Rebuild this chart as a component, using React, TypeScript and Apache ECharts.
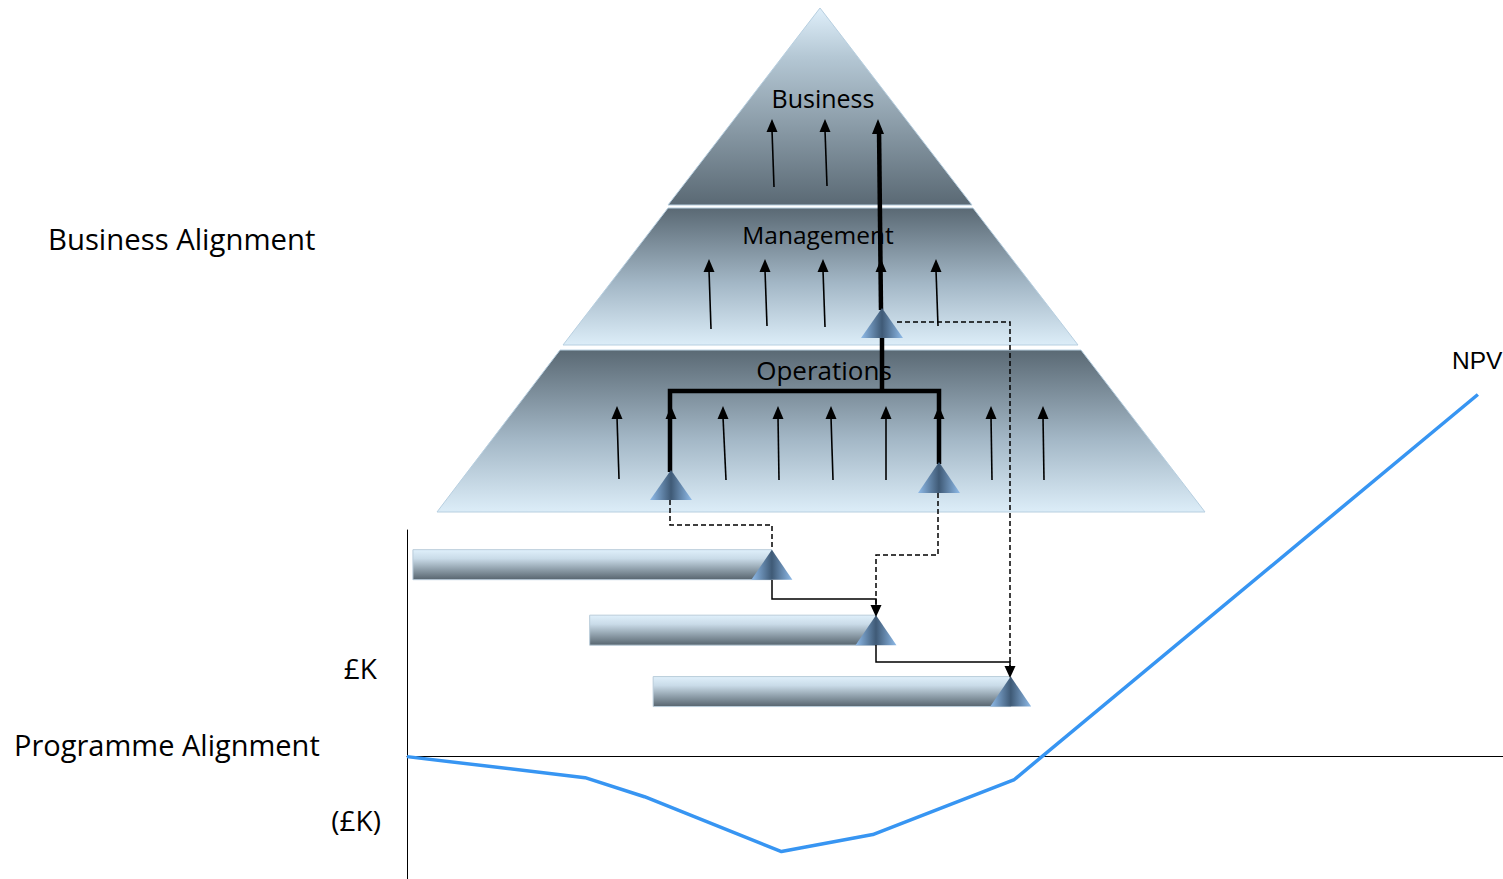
import React, { useEffect, useRef } from "react";
import * as echarts from "echarts";

// NPV curve: months vs £K
const npvMonths = [0, 3.9, 5.2, 8.2, 10.2, 13.3, 23.45];
const npvValues = [0, -9.3, -17.7, -41.9, -34.4, -10.1, 159.8];

// Programme projects (start month, end month, row level)
const projectStarts = [0.13, 4.0, 5.39];
const projectEnds = [7.99, 10.27, 13.22];
const projectRows = [84.7, 55.8, 28.7];

const pyramidLevels = ["Business", "Management", "Operations"];

const FONT = "'Comic Sans MS', 'Open Sans', sans-serif";

function triGrad() {
  return new echarts.graphic.LinearGradient(0, 0, 1, 0, [
    { offset: 0, color: "#8fbbe9" },
    { offset: 0.5, color: "#3f5a76" },
    { offset: 1, color: "#8fbbe9" },
  ]);
}

function upArrow(x1: number, y1: number, x2: number, y2: number, w = 1.6, hw = 5.5, hl = 13) {
  return [
    { type: "line", shape: { x1, y1, x2, y2: y2 + hl - 2 }, style: { stroke: "#000", lineWidth: w }, z: 5 },
    { type: "polygon", shape: { points: [[x2, y2], [x2 - hw, y2 + hl], [x2 + hw, y2 + hl]] }, style: { fill: "#000" }, z: 5 },
  ];
}

function downHead(x: number, y: number, hw = 5.5, hl = 12) {
  return { type: "polygon", shape: { points: [[x, y], [x - hw, y - hl], [x + hw, y - hl]] }, style: { fill: "#000" }, z: 6 };
}

function pyrTri(x: number, apexY: number, baseY: number, hw = 21) {
  return { type: "polygon", shape: { points: [[x, apexY], [x - hw, baseY], [x + hw, baseY]] }, style: { fill: triGrad() }, z: 6 };
}

export default function App() {
  const ref = useRef<HTMLDivElement>(null);
  useEffect(() => {
    if (!ref.current) return;
    const chart = echarts.init(ref.current, null, { renderer: "svg" });

    const darkLight = (rev: boolean) =>
      new echarts.graphic.LinearGradient(0, 0, 0, 1, rev
        ? [{ offset: 0, color: "#dfeffa" }, { offset: 0.25, color: "#b4c7d4" }, { offset: 1, color: "#5a6974" }]
        : [{ offset: 0, color: "#5a6974" }, { offset: 0.55, color: "#a3b7c6" }, { offset: 1, color: "#dcedf8" }]);

    const graphics: any[] = [
      // pyramid sections
      { type: "polygon", shape: { points: [[820, 8], [972, 205], [668, 205]] }, style: { fill: darkLight(true), stroke: "#b7cfe0", lineWidth: 1 }, z: 1 },
      { type: "polygon", shape: { points: [[668, 208], [973, 208], [1078, 345], [563, 345]] }, style: { fill: darkLight(false), stroke: "#b7cfe0", lineWidth: 1 }, z: 1 },
      { type: "polygon", shape: { points: [[560, 350], [1081, 350], [1205, 512], [437, 512]] }, style: { fill: darkLight(false), stroke: "#b7cfe0", lineWidth: 1 }, z: 1 },
      // level labels
      { type: "text", x: 823, y: 98, style: { text: pyramidLevels[0], font: `25px ${FONT}`, fill: "#000", align: "center", verticalAlign: "middle" }, z: 4 },
      { type: "text", x: 818, y: 234, style: { text: pyramidLevels[1], font: `24.5px ${FONT}`, fill: "#000", align: "center", verticalAlign: "middle" }, z: 4 },
      { type: "text", x: 824, y: 370, style: { text: pyramidLevels[2], font: `26px ${FONT}`, fill: "#000", align: "center", verticalAlign: "middle" }, z: 4 },
      // thick lines
      { type: "line", shape: { x1: 881, y1: 310, x2: 879, y2: 128 }, style: { stroke: "#000", lineWidth: 4.5 }, z: 5 },
      { type: "polygon", shape: { points: [[878, 119], [872, 134], [884, 134]] }, style: { fill: "#000" }, z: 5 },
      { type: "line", shape: { x1: 882, y1: 336, x2: 882, y2: 392 }, style: { stroke: "#000", lineWidth: 4.5 }, z: 5 },
      { type: "polyline", shape: { points: [[670, 472], [670, 391], [939, 391], [939, 464]] }, style: { stroke: "#000", lineWidth: 4.5, fill: null }, z: 5 },
      // thin arrows - business
      ...upArrow(774, 187, 772, 119),
      ...upArrow(827, 186, 825, 119),
      // management
      ...upArrow(711, 329, 709, 259),
      ...upArrow(767, 326, 765, 259),
      ...upArrow(825, 327, 823, 259),
      ...upArrow(881, 300, 881, 259),
      ...upArrow(938, 326, 936, 259),
      // operations
      ...upArrow(619, 479, 617, 406),
      ...upArrow(671, 470, 671, 406),
      ...upArrow(726, 480, 723, 406),
      ...upArrow(779, 480, 778, 406),
      ...upArrow(833, 480, 831, 406),
      ...upArrow(886, 480, 886, 406),
      ...upArrow(939, 462, 939, 406),
      ...upArrow(992, 480, 991, 406),
      ...upArrow(1044, 480, 1043, 406),
      // pyramid milestones
      pyrTri(882, 308, 338),
      pyrTri(671, 470, 500),
      pyrTri(939, 462, 493),
      // dashed connectors
      { type: "polyline", shape: { points: [[670, 500], [670, 525], [772, 525], [772, 550]] }, style: { stroke: "#000", lineWidth: 1.5, lineDash: [5, 3], fill: null }, z: 5 },
      { type: "polyline", shape: { points: [[938, 493], [938, 555], [876, 555], [876, 606]] }, style: { stroke: "#000", lineWidth: 1.5, lineDash: [5, 3], fill: null }, z: 5 },
      { type: "polyline", shape: { points: [[897, 322], [1010, 322], [1010, 668]] }, style: { stroke: "#000", lineWidth: 1.5, lineDash: [5, 3], fill: null }, z: 5 },
      // solid connectors
      { type: "polyline", shape: { points: [[772, 580], [772, 599], [876, 599], [876, 606]] }, style: { stroke: "#000", lineWidth: 1.5, fill: null }, z: 5 },
      { type: "polyline", shape: { points: [[876, 645], [876, 662], [1010, 662], [1010, 668]] }, style: { stroke: "#000", lineWidth: 1.5, fill: null }, z: 5 },
      downHead(876, 617),
      downHead(1010, 678),
      // side texts
      { type: "text", x: 48, y: 239, style: { text: "Business Alignment", font: `29.3px ${FONT}`, fill: "#000", verticalAlign: "middle" }, z: 4 },
      { type: "text", x: 14, y: 744, style: { text: "Programme Alignment", font: `29px ${FONT}`, fill: "#000", verticalAlign: "middle" }, z: 4 },
      { type: "text", x: 377, y: 668, style: { text: "£K", font: `28px ${FONT}`, fill: "#000", align: "right", verticalAlign: "middle" }, z: 4 },
      { type: "text", x: 381, y: 820, style: { text: "(£K)", font: `28px ${FONT}`, fill: "#000", align: "right", verticalAlign: "middle" }, z: 4 },
      { type: "text", x: 1452, y: 360, style: { text: "NPV", font: `24.5px 'Liberation Sans', Arial, sans-serif`, fill: "#000", verticalAlign: "middle" }, z: 4 },
    ];

    const projects = projectStarts.map((s, i) => [s, projectEnds[i], projectRows[i]]);

    chart.setOption({
      animation: false,
      grid: { left: 407, right: 0, top: 530, bottom: 0 },
      xAxis: {
        type: "value", min: 0, max: 24,
        axisLine: { show: true, onZero: true, lineStyle: { color: "#000", width: 1 } },
        axisTick: { show: false }, axisLabel: { show: false }, splitLine: { show: false },
      },
      yAxis: {
        type: "value", min: -54, max: 100,
        axisLine: { show: true, lineStyle: { color: "#000", width: 1 } },
        axisTick: { show: false }, axisLabel: { show: false }, splitLine: { show: false },
      },
      graphic: graphics,
      series: [
        {
          type: "custom",
          clip: false,
          z: 3,
          data: projects,
          renderItem: (params: any, api: any) => {
            const s = api.coord([api.value(0), api.value(2)]);
            const e = api.coord([api.value(1), api.value(2)]);
            const h = 30;
            const top = s[1] - h / 2;
            const bot = s[1] + h / 2;
            return {
              type: "group",
              children: [
                {
                  type: "rect",
                  shape: { x: s[0], y: top, width: e[0] - s[0], height: h },
                  style: {
                    fill: new echarts.graphic.LinearGradient(0, 0, 0, 1, [
                      { offset: 0, color: "#e0f0fb" },
                      { offset: 0.3, color: "#c9dbe8" },
                      { offset: 1, color: "#57656f" },
                    ]),
                    stroke: "#b9ccda",
                    lineWidth: 1,
                  },
                },
                {
                  type: "polygon",
                  shape: { points: [[e[0], top], [e[0] - 20.5, bot], [e[0] + 20.5, bot]] },
                  style: { fill: triGrad() },
                },
              ],
            };
          },
        },
        {
          type: "line",
          clip: false,
          z: 4,
          showSymbol: false,
          symbol: "none",
          data: npvMonths.map((m, i) => [m, npvValues[i]]),
          lineStyle: { color: "#3795f2", width: 3.5 },
        },
      ],
    });
    return () => chart.dispose();
  }, []);
  return <div ref={ref} style={{ position: "fixed", left: 0, top: 0, width: 1503, height: 879, background: "#fff" }} />;
}
